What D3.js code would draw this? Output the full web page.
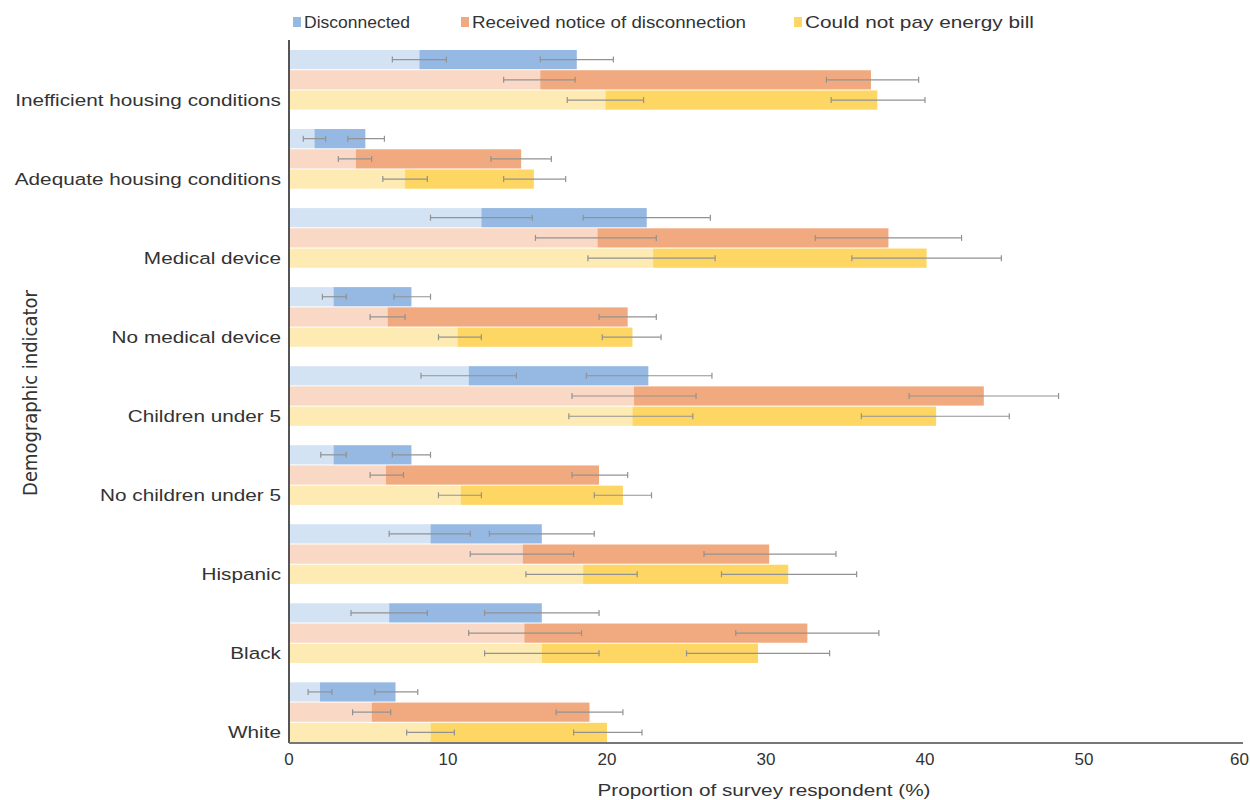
<!DOCTYPE html>
<html lang="en">
<head>
<meta charset="UTF-8">
<title>Energy insecurity by demographic indicator</title>
<script src="https://d3js.org/d3.v7.min.js"></script>
<style>
  body { margin: 0; background: #fff; font-family: "Liberation Sans", Arial, sans-serif; }
  .cat { font-size: 17px; fill: #333; }
  .tick-label { font-size: 17px; fill: #333; }
  .legend text { font-size: 17px; fill: #333; }
</style>
</head>
<body>
<div id="chart"></div>
<script>
// categories, top to bottom
var categories = ["Inefficient housing conditions", "Adequate housing conditions", "Medical device",
  "No medical device", "Children under 5", "No children under 5", "Hispanic", "Black", "White"];
var seriesNames = ["Disconnected", "Received notice of disconnection", "Could not pay energy bill"];
var xTicks = [0, 10, 20, 30, 40, 50, 60];

// light segment end (with CI) and full bar end (with CI), in %
var disconnectedLight   = [8.2, 1.6, 12.1, 2.8, 11.3, 2.8, 8.9, 6.3, 1.95];
var disconnectedLightCI = [[6.5, 9.9], [0.9, 2.3], [8.9, 15.3], [2.1, 3.6], [8.3, 14.3], [2.0, 3.6], [6.3, 11.4], [3.9, 8.7], [1.2, 2.7]];
var disconnectedTotal   = [18.1, 4.8, 22.5, 7.7, 22.6, 7.7, 15.9, 15.9, 6.7];
var disconnectedTotalCI = [[15.8, 20.4], [3.7, 6.0], [18.5, 26.5], [6.6, 8.9], [18.7, 26.6], [6.5, 8.9], [12.6, 19.2], [12.3, 19.5], [5.4, 8.1]];

var noticeLight   = [15.8, 4.2, 19.4, 6.2, 21.7, 6.1, 14.7, 14.8, 5.2];
var noticeLightCI = [[13.5, 18.0], [3.1, 5.2], [15.5, 23.1], [5.1, 7.3], [17.8, 25.6], [5.1, 7.2], [11.4, 17.9], [11.3, 18.4], [4.0, 6.4]];
var noticeTotal   = [36.6, 14.6, 37.7, 21.3, 43.7, 19.5, 30.2, 32.6, 18.9];
var noticeTotalCI = [[33.8, 39.6], [12.7, 16.5], [33.1, 42.3], [19.5, 23.1], [39.0, 48.4], [17.8, 21.3], [26.1, 34.4], [28.1, 37.1], [16.8, 21.0]];

var billLight   = [19.9, 7.3, 22.9, 10.6, 21.6, 10.8, 18.5, 15.9, 8.9];
var billLightCI = [[17.5, 22.3], [5.9, 8.7], [18.8, 26.8], [9.4, 12.1], [17.6, 25.4], [9.4, 12.1], [14.9, 21.9], [12.3, 19.5], [7.4, 10.4]];
var billTotal   = [37.0, 15.4, 40.1, 21.6, 40.7, 21.0, 31.4, 29.5, 20.0];
var billTotalCI = [[34.1, 40.0], [13.5, 17.4], [35.4, 44.8], [19.7, 23.4], [36.0, 45.3], [19.2, 22.8], [27.2, 35.7], [25.0, 34.0], [17.9, 22.2]];

var darkColors  = ["#95b9e2", "#f1aa7f", "#fdd663"];
var lightColors = ["#d4e3f4", "#f9d9c6", "#feebb3"];

var lightVals = [disconnectedLight, noticeLight, billLight];
var lightCIs  = [disconnectedLightCI, noticeLightCI, billLightCI];
var totalVals = [disconnectedTotal, noticeTotal, billTotal];
var totalCIs  = [disconnectedTotalCI, noticeTotalCI, billTotalCI];

var rows = [];
categories.forEach(function(c, i) {
  seriesNames.forEach(function(s, j) {
    rows.push({cat: c, s: j, light: lightVals[j][i], lightCI: lightCIs[j][i],
               total: totalVals[j][i], totalCI: totalCIs[j][i]});
  });
});

var W = 1250, H = 800;
var stretch = 1.22; // the source text is drawn wide
var svg = d3.select("#chart").append("svg").attr("width", W).attr("height", H);

var x = d3.scaleLinear().domain([0, 60]).range([289, 1243]);
var y = d3.scaleBand().domain(categories).range([50, 742]).paddingInner(0.245).paddingOuter(0);
var ys = d3.scaleBand().domain([0, 1, 2]).range([0, y.bandwidth()]).paddingInner(0.05);

// bars
var g = svg.selectAll(".bar").data(rows).enter().append("g")
  .attr("transform", function(d) { return "translate(0," + (y(d.cat) + ys(d.s)) + ")"; });

g.append("rect")
  .attr("x", x(0))
  .attr("width", function(d) { return x(d.light) - x(0); })
  .attr("height", ys.bandwidth())
  .attr("fill", function(d) { return lightColors[d.s]; });

g.append("rect")
  .attr("x", function(d) { return x(d.light); })
  .attr("width", function(d) { return x(d.total) - x(d.light); })
  .attr("height", ys.bandwidth())
  .attr("fill", function(d) { return darkColors[d.s]; });

// error bars
function errBar(sel, key) {
  var h = ys.bandwidth() / 2;
  sel.append("line")
    .attr("x1", function(d) { return x(d[key][0]); })
    .attr("x2", function(d) { return x(d[key][1]); })
    .attr("y1", h).attr("y2", h);
  [0, 1].forEach(function(k) {
    sel.append("line")
      .attr("x1", function(d) { return x(d[key][k]); })
      .attr("x2", function(d) { return x(d[key][k]); })
      .attr("y1", h - 3).attr("y2", h + 3);
  });
}
var eb = g.append("g").attr("stroke", "#929292").attr("stroke-width", 1.2);
errBar(eb, "lightCI");
errBar(eb, "totalCI");

// axes lines
svg.append("line").attr("x1", x(0)).attr("x2", x(0)).attr("y1", 40).attr("y2", 743)
  .attr("stroke", "#555").attr("stroke-width", 2);
svg.append("line").attr("x1", x(0)).attr("x2", x(60)).attr("y1", 743).attr("y2", 743)
  .attr("stroke", "#777").attr("stroke-width", 2);

// x tick labels (last one kept inside the frame)
svg.selectAll(".tick-label").data(xTicks).enter().append("text")
  .attr("class", "tick-label")
  .attr("x", function(d) { return d === 60 ? W - 1 : x(d); })
  .attr("y", 765)
  .attr("text-anchor", function(d) { return d === 60 ? "end" : "middle"; })
  .text(function(d) { return d; });

svg.append("text")
  .attr("transform", "translate(764,796) scale(" + stretch + ",1)")
  .attr("text-anchor", "middle")
  .style("font-size", "17px").style("fill", "#333")
  .text("Proportion of survey respondent (%)");

// category labels aligned to the third bar
svg.selectAll(".cat").data(categories).enter().append("text")
  .attr("class", "cat")
  .attr("transform", function(d) {
    return "translate(281," + (y(d) + ys(2) + ys.bandwidth() / 2) + ") scale(" + stretch + ",1)";
  })
  .attr("dy", "0.35em")
  .attr("text-anchor", "end")
  .text(function(d) { return d; });

svg.append("text")
  .attr("transform", "translate(30,393) rotate(-90)")
  .attr("text-anchor", "middle")
  .attr("dy", "0.35em")
  .style("font-family", "'Liberation Sans Narrow', 'DejaVu Sans Condensed', sans-serif")
  .style("font-size", "20px").style("fill", "#333")
  .text("Demographic indicator");

// legend
var legendX = [293, 461, 794];
var legendLen = [106, 274, 229];
var legend = svg.selectAll(".legend").data(seriesNames).enter().append("g")
  .attr("class", "legend")
  .attr("transform", function(d, i) { return "translate(" + legendX[i] + ",22)"; });
legend.append("rect").attr("x", 0).attr("y", -5).attr("width", 8).attr("height", 10)
  .attr("fill", function(d, i) { return darkColors[i]; });
legend.append("text").attr("x", 11).attr("dy", "0.35em")
  .attr("textLength", function(d, i) { return legendLen[i]; })
  .attr("lengthAdjust", "spacingAndGlyphs")
  .text(function(d) { return d; });
</script>
</body>
</html>
